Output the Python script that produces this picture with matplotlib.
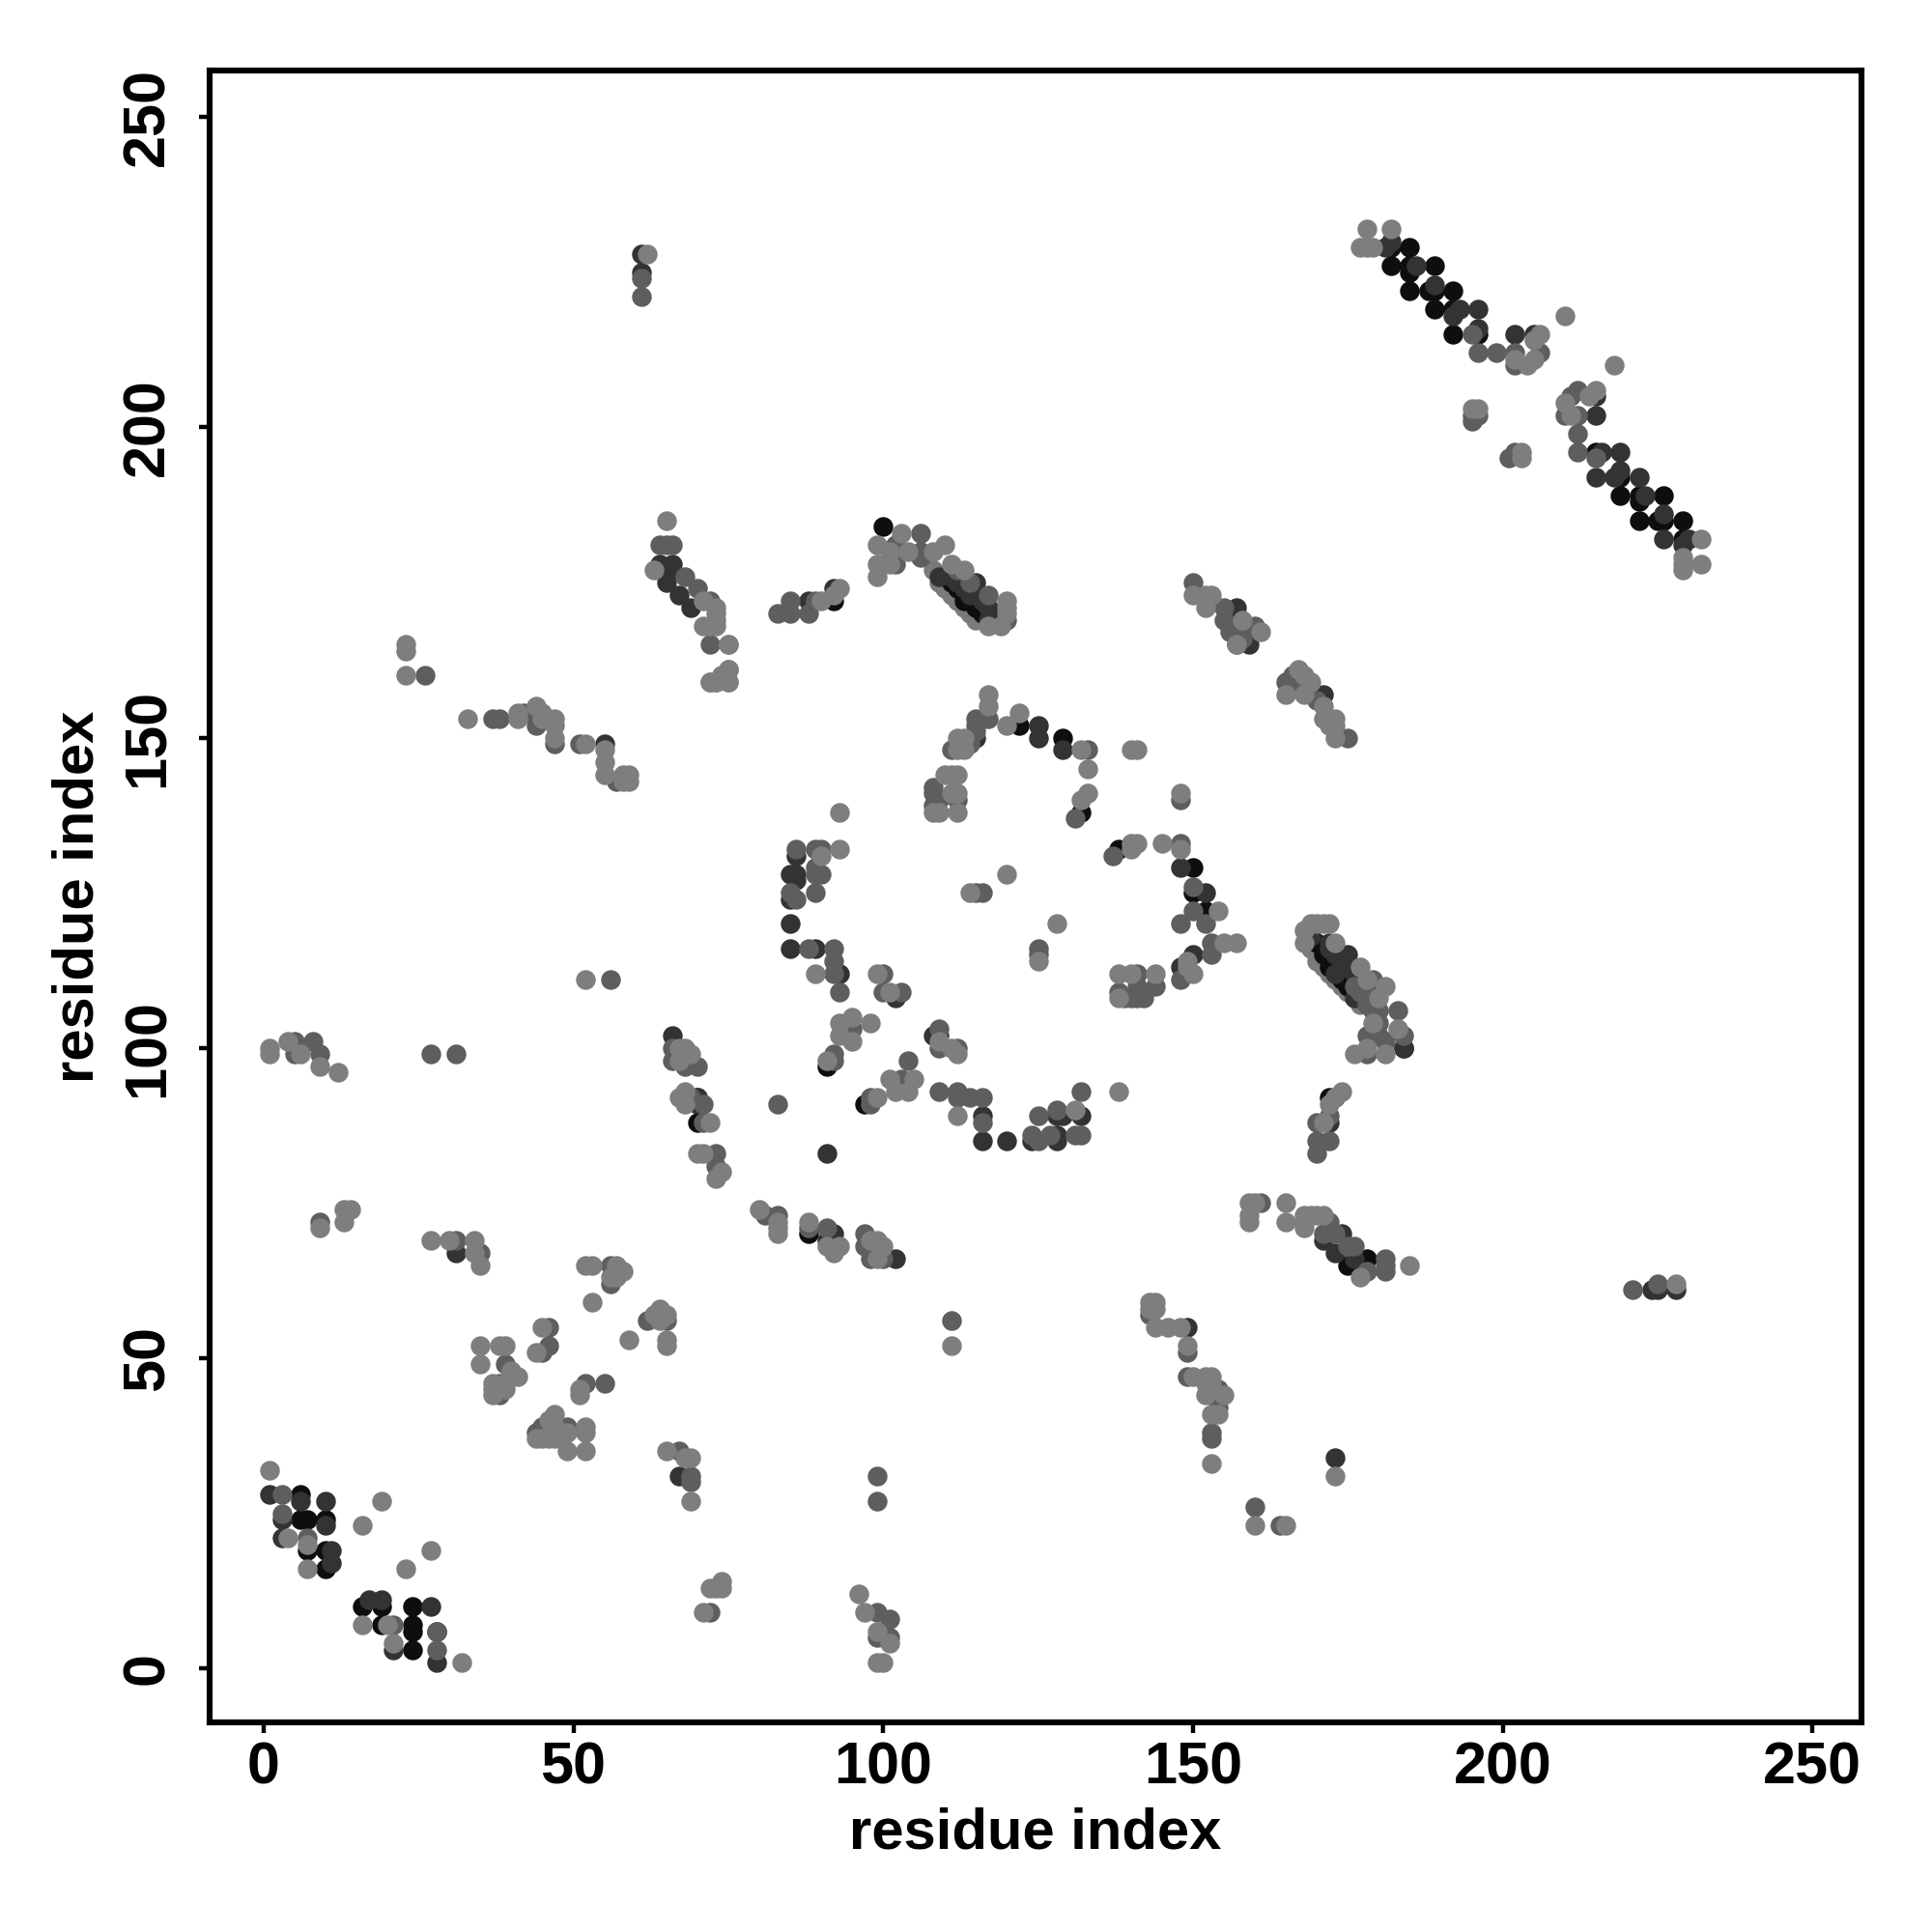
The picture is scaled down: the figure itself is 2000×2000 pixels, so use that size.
import matplotlib
matplotlib.use('Agg')
import matplotlib.pyplot as plt

# contact map, residue pairs (x, y), grouped by grey level
under_points = [(110,174),(111,173),(112,172),(113,171),(114,170),(115,169),(116,169),(108,177),(109,175),
    (170,114),(171,113),(172,112),(173,111),(174,110),(175,109),(176,108),(177,107),(169,116)]
black_points = [(6,28),(6,24),(7,24),(10,24),(7,19),(10,19),(10,16),(16,10),(19,10),(24,10),(19,7),(24,7),(24,6),(28,6),(24,3),
    (88,70),(92,68),(70,92),(68,92),(70,88),(91,97),(97,91),(122,152),(129,150),(132,138),(138,132),(150,129),(150,125),(152,122),
    (170,117),(171,116),(171,115),(172,114),(172,113),(173,113),(174,112),(174,111),(175,111),(175,110),(176,109),(175,65),(178,66),(179,102),(184,100),(172,92),
    (100,184),(102,180),(110,176),(111,175),(112,174),(113,173),(113,172),(114,172),(115,171),(115,172),(116,171),(116,170),(117,170),
    (182,229),(185,229),(182,226),(185,226),(185,225),(189,226),(185,222),(188,222),(189,222),(192,222),(189,219),(192,219),(192,215),(196,215),
    (215,196),(219,192),(219,189),(222,189),(222,188),(226,189),(222,185),(225,185),(226,185),(229,185),(229,182),(92,172)]
dark_points = [(1,28),(6,27),(10,27),(3,24),(10,23),(3,21),(11,19),(11,17),(17,11),(19,11),(27,10),(21,3),(28,1),(31,67),(67,31),
    (85,128),(86,128),(86,127),(86,131),(85,124),(85,120),(85,116),(89,116),(93,112),(66,102),(70,92),(70,91),(102,108),(108,102),(109,102),
    (116,89),(116,85),(120,85),(124,85),(128,86),(128,85),(129,89),(132,89),(128,89),(91,83),(92,70),(91,69),(102,66),
    (115,150),(125,152),(125,150),(129,148),(148,129),(152,125),(150,115),(148,113),(149,55),(173,34),(171,69),(174,70),(173,67),(176,66),(176,108),
    (169,118),(172,117),(172,116),(173,115),(174,115),(175,115),(174,114),(175,113),(176,112),(173,112),(184,100),(172,88),(173,92),(224,61),(225,61),(228,61),(171,157),(159,165),(157,171),
    (55,149),(61,228),(61,225),(64,178),(66,178),(65,176),(65,175),(67,173),(69,171),(88,172),(92,174),(109,176),(115,175),(111,176),(112,175),(113,174),(114,173),(115,173),(116,172),(117,171),(117,169),
    (181,229),(182,230),(186,226),(189,223),(193,219),(192,218),(196,219),(196,216),(202,215),(205,215),(215,205),(215,202),
    (216,196),(219,196),(215,192),(218,192),(219,193),(222,192),(223,189),(226,186),(226,182),(230,182),(229,181)]
mid_points = [(3,28),(3,25),(7,21),(21,7),(28,3),(28,6),(9,72),(31,69),(35,67),(56,65),(56,62),(62,56),(65,56),(39,49),(46,55),(46,52),(45,51),
    (38,46),(38,45),(38,44),(44,38),(46,38),(48,38),(49,39),(45,39),(52,46),(55,46),(67,35),(69,31),(72,9),(69,30),
    (81,73),(83,73),(88,71),(91,71),(97,70),(97,68),(98,66),(100,66),(99,67),(111,56),(143,57),(149,51),(149,47),(153,44),(154,45),(154,42),(153,38),(153,37),
    (160,26),(164,23),(99,31),(99,27),(99,9),(101,8),(99,5),(101,5),(161,75),(172,72),(171,70),(173,70),(175,68),(176,68),(181,66),(181,65),(181,64),
    (178,64),(221,61),(225,62),(26,160),(37,153),(38,153),(42,154),(44,152),(47,149),(51,149),(57,143),(56,111),(5,101),(8,101),(5,99),(9,99),
    (27,99),(31,99),(66,100),(66,98),(68,97),(70,97),(69,92),(71,91),(71,88),(73,83),(73,81),
    (115,153),(115,152),(117,153),(115,151),(111,148),(114,149),(133,148),(131,137),(108,142),(108,141),(108,139),(109,140),(112,140),(148,140),(86,132),
    (89,132),(90,132),(89,129),(89,128),(90,128),(89,125),(85,125),(86,124),(88,116),(92,116),(92,114),(92,112),(93,109),(116,125),(115,125),
    (125,116),(125,115),(137,131),(148,133),(148,120),(150,126),(150,122),(152,120),(153,117),(153,115),(148,111),(138,109),(139,108),(140,108),(141,108),(142,108),(141,112),(144,110),(141,110),
    (95,103),(92,99),(92,98),(100,112),(100,109),(103,109),(109,103),(109,100),(112,100),(104,98),(103,95),(98,92),(98,91),(83,91),(109,93),(112,93),(112,92),(114,92),(116,92),
    (125,89),(124,86),(125,85),(127,86),(128,90),(131,86),(132,86),(132,93),(116,88),
    (157,165),(166,160),(165,159),(166,158),(168,158),(170,156),(175,150),(178,108),(176,110),(179,110),(179,106),(180,106),(180,104),(180,102),(178,102),(181,101),(183,106),(184,102),(178,99),(170,88),(172,89),(170,85),(172,85),(170,83),
    (150,175),(155,171),(155,169),(156,168),(156,167),(158,166),(160,168),(178,110),(177,109),(178,107),(179,111),
    (61,224),(61,221),(64,181),(65,181),(66,181),(68,176),(70,174),(72,172),(72,165),(75,161),(83,170),(85,172),(85,170),(88,170),(89,172),(102,181),(102,178),(106,183),(106,180),(106,179),(112,177),(114,175),(117,173),(120,169),
    (195,215),(195,202),(195,201),(196,202),(196,212),(199,212),(202,212),(202,210),(206,212),(212,206),(211,205),(210,202),(212,202),(212,199),(212,196),(201,195),(202,196),(215,195)]
light_points = [(1,32),(4,21),(7,20),(7,16),(19,27),(16,23),(27,19),(23,16),(16,7),(20,7),(21,4),(32,1),(9,71),(13,74),(14,74),(13,72),
    (27,69),(30,69),(34,69),(34,67),(35,65),(52,65),(53,65),(57,65),(58,64),(56,63),(57,63),(53,59),(65,53),(65,52),(59,53),(63,57),(64,58),(64,56),(65,57),
    (35,52),(38,52),(39,52),(35,49),(45,55),(44,51),(40,48),(41,47),(37,46),(40,47),(39,46),(37,45),(39,45),(37,44),(51,44),(51,45),
    (47,41),(46,40),(47,39),(44,37),(45,37),(46,37),(47,37),(49,38),(52,39),(52,38),(49,35),(52,35),(65,35),(68,34),(69,34),(69,27),(72,13),(74,14),(74,13),(73,13),(71,9),
    (80,74),(83,72),(83,71),(83,70),(88,72),(91,68),(92,67),(93,68),(98,69),(99,69),(100,68),(99,66),(111,52),(143,59),(144,59),(143,58),(144,58),(144,55),(146,55),(148,55),(149,52),
    (150,47),(152,47),(153,47),(152,46),(153,46),(152,44),(155,44),(153,41),(154,41),(153,33),(160,23),(165,23),(96,12),(97,9),(99,6),(101,4),(99,1),(100,1),
    (159,75),(160,75),(159,73),(159,72),(165,75),(165,72),(168,73),(168,72),(168,71),(169,73),(170,73),(171,73),(177,63),(185,65),(173,31),(228,62),
    (23,165),(23,164),(23,160),(33,153),(41,154),(41,153),(44,155),(45,154),(45,153),(47,153),(47,152),(47,150),(52,149),(55,148),(55,146),(55,144),(58,144),(59,144),(58,143),(59,143),
    (52,111),(1,100),(1,99),(4,101),(6,99),(9,97),(12,96),(67,100),(68,100),(67,98),(69,99),(68,93),(67,92),(68,91),(72,88),(70,83),(71,83),(74,80),(73,79),
    (72,159),(73,159),(74,160),(75,159),(75,165),(75,161),
    (117,157),(117,155),(112,150),(113,150),(112,148),(113,148),(120,152),(122,154),(132,148),(133,145),(140,148),(141,148),(133,141),(132,140),
    (110,144),(111,144),(112,144),(108,138),(109,138),(111,141),(112,141),(112,138),(148,141),(93,138),(90,131),(93,132),(89,112),(120,128),(114,125),(128,120),(125,114),
    (140,132),(141,133),(140,133),(145,133),(148,132),(154,122),(155,117),(157,117),(149,114),(150,112),(149,113),(138,112),(140,112),(144,112),(138,108),
    (98,104),(93,104),(93,102),(95,105),(95,101),(91,98),(99,112),(101,109),(109,101),(111,100),(112,99),(101,95),(105,95),(102,93),(104,93),(99,92),(112,89),(131,90),(138,93),
    (167,161),(168,160),(169,159),(165,157),(168,157),(171,155),(171,153),(173,153),(172,152),(173,152),(173,150),
    (150,173),(152,173),(153,173),(152,171),(158,169),(161,167),(157,165),
    (169,120),(170,120),(171,120),(172,120),(168,119),(168,117),(173,117),(177,113),(178,111),(181,110),(180,108),(179,104),(183,103),(178,100),(176,99),(181,99),(174,93),(173,92),(172,91),(171,88),
    (62,228),(65,185),(63,177),(71,172),(73,171),(73,170),(73,169),(73,168),(71,168),(72,168),(75,165),(74,160),(72,159),(73,159),(75,159),
    (90,172),(93,174),(92,173),(103,183),(99,181),(101,180),(104,180),(99,178),(101,178),(99,176),(108,180),(110,181),(111,178),(113,177),(117,168),(119,168),(120,172),(120,171),(120,170),
    (178,232),(182,232),(177,229),(178,229),(179,229),(202,211),(206,215),(205,214),(205,211),(204,210),(210,218),(218,210),(214,205),(215,206),(210,204),(211,202),(195,203),(196,203),(203,196),(203,195),
    (232,182),(229,179),(229,178),(229,177),(232,178)]

x_ticks = [0, 50, 100, 150, 200, 250]
y_ticks = [0, 50, 100, 150, 200, 250]

# darkest first, the lighter dots sit on top
groups = [(under_points, '#7a7a7a'), (black_points, '#0e0e0e'), (dark_points, '#333333'), (mid_points, '#5e5e5e'), (light_points, '#7e7e7e')]

plt.rcParams['font.family'] = ['Liberation Sans', 'DejaVu Sans']
fig = plt.figure(figsize=(10, 10), dpi=200)
ax = fig.add_axes([217/2000, 1 - 1783/2000, 1710/2000, 1710/2000])

for points, colour in groups:
    xs = [p[0] for p in points]
    ys = [p[1] for p in points]
    ax.scatter(xs, ys, s=54, c=colour, linewidths=0, zorder=3)

ax.set_xlim(-8.7, 257.9)
ax.set_ylim(-8.7, 257.5)
ax.set_xticks(x_ticks)
ax.set_yticks(y_ticks)
ax.tick_params(axis='x', length=4, width=1.6, pad=3, labelsize=22)
ax.tick_params(axis='y', length=4, width=1.6, pad=8.5, labelsize=22)
for lab in ax.get_xticklabels():
    lab.set_fontweight('bold')
for lab in ax.get_yticklabels():
    lab.set_fontweight('bold')
    lab.set_rotation(90)
    lab.set_va('center')
for side in ax.spines.values():
    side.set_linewidth(2.2)
ax.set_xlabel('residue index', fontsize=21.5, fontweight='bold', labelpad=4)
ax.set_ylabel('residue index', fontsize=21.5, fontweight='bold', labelpad=6)

fig.savefig('out.png', dpi=200)
